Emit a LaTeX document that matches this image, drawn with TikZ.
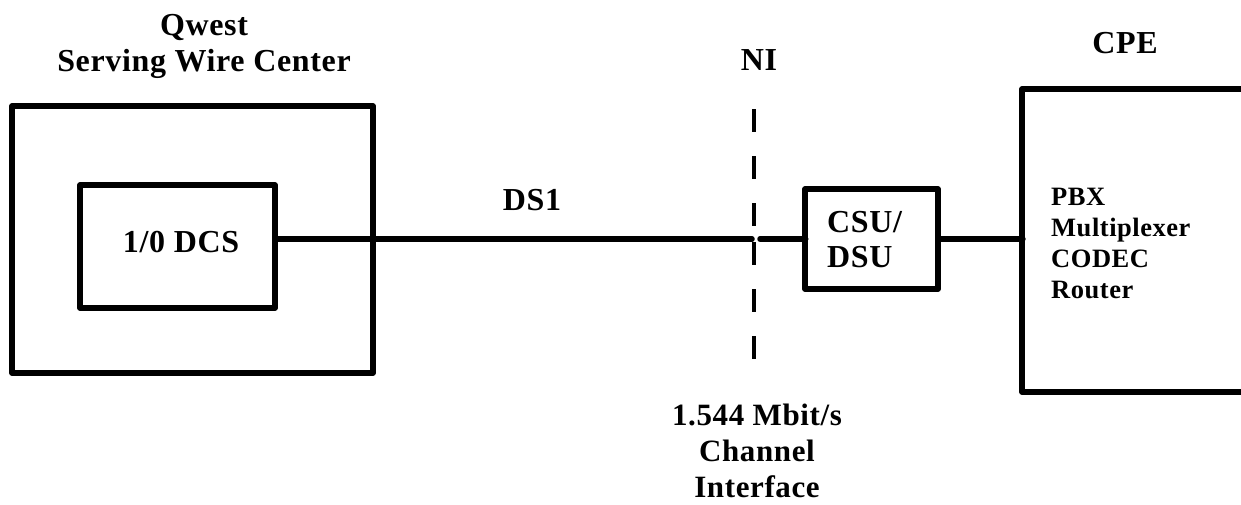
\documentclass[tikz,border=0pt]{standalone}
\usepackage{fontspec}
\newfontfamily\lblfam{Liberation Serif}[LetterSpace=2]
\begin{document}
\begin{tikzpicture}[x=1pt,y=-1pt]
\tikzset{
  wire/.style={line width=5.5pt,line cap=round},
  boxst/.style={draw,line width=5.5pt,line join=round,inner sep=0pt,outer sep=0pt},
  openbox/.style={line width=5.5pt,line join=round},
  lbl/.style={font=\lblfam\bfseries\fontsize{32}{36}\selectfont,align=center,inner sep=0pt},
  lblsmall/.style={font=\lblfam\bfseries\fontsize{26.5}{31}\selectfont,align=left,inner sep=0pt},
  nidash/.style={line width=4.5pt,dash pattern=on 23pt off 24pt}
}
\useasboundingbox (0,0) rectangle (1241,504);
% titles (base anchor = baseline of the last line)
\node[lbl,anchor=base] (swctitle) at (204,71) {Qwest\\Serving Wire Center};
\node[lbl,anchor=base] (nititle) at (759,70) {NI};
\node[lbl,anchor=base] (cpetitle) at (1125,53) {CPE};
% serving wire center
\node[boxst,minimum width=361,minimum height=267] (swc) at (192.5,239.5) {};
\node[boxst,minimum width=195,minimum height=123] (dcs) at (177.5,246.5) {};
\node[lbl,anchor=base] (dcslbl) at (181,252) {1/0 DCS};
% CSU/DSU
\node[boxst,minimum width=133,minimum height=100] (csu) at (871.5,239) {};
\node[lbl,anchor=base west,align=left,font=\lblfam\bfseries\fontsize{32}{35}\selectfont] (csulbl) at (827,267) {CSU/\\DSU};
% CPE open box
\coordinate (cpeTR) at (1250,89);
\coordinate (cpeTL) at (1022,89);
\coordinate (cpeBL) at (1022,392);
\coordinate (cpeBR) at (1250,392);
\draw[openbox] (cpeTR) -- (cpeTL) -- (cpeBL) -- (cpeBR);
\coordinate (cpein) at (1022,239);
\node[lblsmall,anchor=base west] (cpelist) at (1051,298) {PBX\\Multiplexer\\CODEC\\Router};
% NI dashed line
\coordinate (niA) at (754,109);
\coordinate (niB) at (754,226);
\coordinate (niC) at (754,242);
\coordinate (niD) at (754,359);
\draw[nidash] (niA) -- (niB);
\draw[nidash] (niC) -- (niD);
% wires
\coordinate (gapL) at (752,239);
\coordinate (gapR) at (760,239);
\draw[wire] (dcs.east |- gapL) -- (gapL);
\draw[wire] (gapR) -- (csu.west);
\draw[wire] (csu.east) -- (cpein);
\fill (csu.west) circle (3.5);
\fill (cpein) circle (3.7);
\node[lbl,anchor=base] (ds1) at (532,210) {DS1};
\node[lbl,anchor=base,font=\lblfam\bfseries\fontsize{31}{36}\selectfont] (rate) at (757,497) {1.544 Mbit/s\\Channel\\Interface};
\end{tikzpicture}
\end{document}
